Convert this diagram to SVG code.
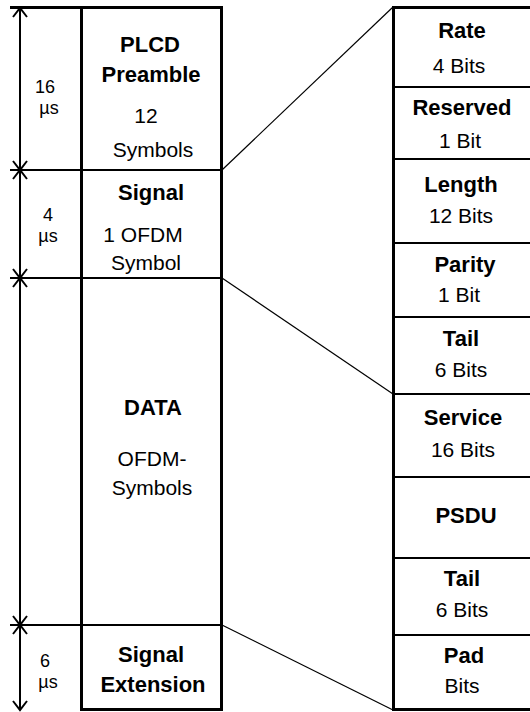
<svg xmlns="http://www.w3.org/2000/svg" width="530" height="712" viewBox="0 0 530 712">
<style>
.b{font-family:"Liberation Sans",Arial,sans-serif;font-size:22px;font-weight:bold;text-anchor:middle;fill:#000}
.r{font-family:"Liberation Sans",Arial,sans-serif;font-size:21px;text-anchor:middle;fill:#000}
.d{font-family:"Liberation Sans",Arial,sans-serif;font-size:18px;text-anchor:middle;fill:#000}
.thick{fill:none;stroke:#000;stroke-width:3}
.div{stroke:#000;stroke-width:2;fill:none}
.thin{stroke:#000;stroke-width:1.2;fill:none}
</style>
<rect width="530" height="712" fill="#fff"/>
<g id="dimension">
<line x1="10" y1="7.5" x2="82" y2="7.5" class="thick"/>
<line x1="10" y1="170" x2="82" y2="170" class="div"/>
<line x1="10" y1="278" x2="82" y2="278" class="div"/>
<line x1="10" y1="625" x2="82" y2="625" class="div"/>
<line x1="20" y1="8" x2="20" y2="710" class="div"/>
<path d="M13,17 L20,8 L27,17 M13,161 L20,170 L27,161 M13,179 L20,170 L27,179 M13,269 L20,278 L27,269 M13,287 L20,278 L27,287 M13,616 L20,625 L27,616 M13,634 L20,625 L27,634 M13,701 L20,710 L27,701" class="div"/>
<text class="d" x="45" y="93">16</text>
<text class="d" x="49" y="114">µs</text>
<text class="d" x="48" y="221">4</text>
<text class="d" x="48" y="242">µs</text>
<text class="d" x="45" y="667">6</text>
<text class="d" x="48" y="688">µs</text>
</g>
<g id="connectors">
<line x1="222" y1="170" x2="393" y2="7" class="thin"/>
<line x1="222" y1="278" x2="393" y2="394" class="thin"/>
<line x1="222" y1="625" x2="393" y2="710" class="thin"/>
</g>
<g id="left-frame">
<rect x="81.5" y="7.5" width="140" height="702" class="thick"/>
</g>
<g id="plcd-preamble">
<text class="b" x="150" y="52">PLCD</text>
<text class="b" x="151" y="82">Preamble</text>
<text class="r" x="146" y="123">12</text>
<text class="r" x="153" y="157">Symbols</text>
</g>
<g id="signal">
<line x1="82" y1="170" x2="221" y2="170" class="div"/>
<text class="b" x="151" y="200">Signal</text>
<text class="r" x="143" y="242">1 OFDM</text>
<text class="r" x="146" y="270">Symbol</text>
</g>
<g id="data">
<line x1="82" y1="278" x2="221" y2="278" class="div"/>
<text class="b" x="153" y="415">DATA</text>
<text class="r" x="152" y="466">OFDM-</text>
<text class="r" x="152" y="495">Symbols</text>
</g>
<g id="signal-extension">
<line x1="82" y1="625" x2="221" y2="625" class="div"/>
<text class="b" x="151" y="662">Signal</text>
<text class="b" x="153" y="692">Extension</text>
</g>
<g id="right-frame">
<rect x="393.5" y="7.5" width="140" height="702" class="thick"/>
</g>
<g id="rate">
<text class="b" x="462" y="38">Rate</text>
<text class="r" x="459" y="73">4 Bits</text>
</g>
<g id="reserved">
<line x1="394" y1="87" x2="530" y2="87" class="div"/>
<text class="b" x="462" y="115">Reserved</text>
<text class="r" x="460" y="148">1 Bit</text>
</g>
<g id="length">
<line x1="394" y1="159" x2="530" y2="159" class="div"/>
<text class="b" x="461" y="192">Length</text>
<text class="r" x="461" y="223">12 Bits</text>
</g>
<g id="parity">
<line x1="394" y1="243" x2="530" y2="243" class="div"/>
<text class="b" x="465" y="272">Parity</text>
<text class="r" x="459" y="302">1 Bit</text>
</g>
<g id="tail1">
<line x1="394" y1="317" x2="530" y2="317" class="div"/>
<text class="b" x="461" y="346">Tail</text>
<text class="r" x="461" y="377">6 Bits</text>
</g>
<g id="service">
<line x1="394" y1="394" x2="530" y2="394" class="div"/>
<text class="b" x="463" y="425">Service</text>
<text class="r" x="463" y="457">16 Bits</text>
</g>
<g id="psdu">
<line x1="394" y1="477" x2="530" y2="477" class="div"/>
<text class="b" x="466" y="523">PSDU</text>
</g>
<g id="tail2">
<line x1="394" y1="558" x2="530" y2="558" class="div"/>
<text class="b" x="462" y="586">Tail</text>
<text class="r" x="462" y="617">6 Bits</text>
</g>
<g id="pad">
<line x1="394" y1="635" x2="530" y2="635" class="div"/>
<text class="b" x="464" y="663">Pad</text>
<text class="r" x="462" y="693">Bits</text>
</g>
</svg>
